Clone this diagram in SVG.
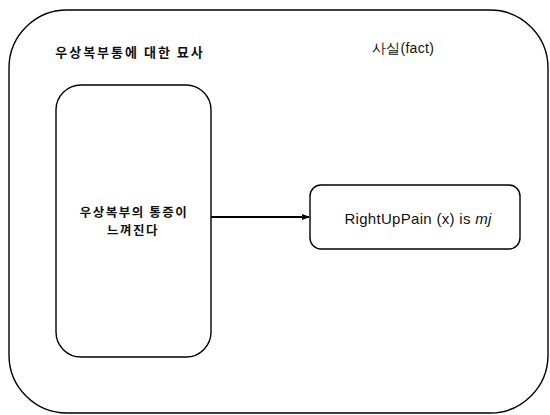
<svg xmlns="http://www.w3.org/2000/svg" width="550" height="415" viewBox="0 0 550 415">
<style>
.box{fill:none;stroke:#000;stroke-width:1.4}
.t{font-family:"Noto Sans CJK KR","Liberation Sans",sans-serif;font-size:13px;font-weight:bold;fill:#111;text-anchor:middle;letter-spacing:2px}
.e{font-family:"Liberation Sans",Arial,sans-serif;font-size:15px;fill:#111;text-anchor:middle;letter-spacing:0.3px}
</style>
<defs>
<marker id="ah" markerWidth="8" markerHeight="6" refX="7" refY="3" orient="auto" markerUnits="userSpaceOnUse">
<path d="M0,0 L8,3 L0,6 z" fill="#000"/>
</marker>
</defs>
<g id="outer">
<rect class="box" x="9" y="10" width="539" height="403" rx="58" ry="58"/>
<text class="t" x="130" y="57">우상복부통에 대한 묘사</text>
<text class="e" x="403" y="53" style="font-size:14px">사실(fact)</text>
</g>
<g id="description">
<rect class="box" x="56" y="85" width="155" height="272" rx="25" ry="25"/>
<text class="t" x="134" y="217" style="font-size:12.5px;letter-spacing:1.5px">우상복부의 통증이</text>
<text class="t" x="133" y="235" style="font-size:12.5px;letter-spacing:1.5px">느껴진다</text>
</g>
<g id="fact">
<rect class="box" x="310" y="185" width="210" height="64" rx="11" ry="11"/>
<text class="e" x="418" y="224">RightUpPain (x) is <tspan font-style="italic">mj</tspan></text>
</g>
<g id="connectors">
<line x1="211" y1="217" x2="309" y2="217" stroke="#000" stroke-width="1.8" marker-end="url(#ah)"/>
</g>
</svg>
